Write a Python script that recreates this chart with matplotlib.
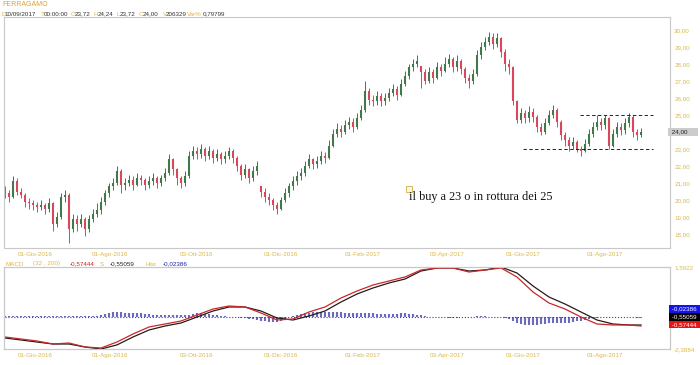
import matplotlib.pyplot as plt
import numpy as np

plt.rcParams['font.family'] = ['Liberation Sans', 'DejaVu Sans']

# FERRAGAMO bars (one bar ~ two sessions)
closes = [20.4, 20.2, 21.1, 20.5, 20.3, 19.9, 19.8, 19.7, 19.6, 19.7,
          19.5, 19.8, 18.6, 19.0, 20.2, 20.3, 18.3, 18.9, 18.6, 18.9,
          18.3, 18.9, 19.2, 19.4, 19.9, 20.4, 20.8, 21.0, 21.7, 20.9,
          21.0, 21.2, 20.9, 21.3, 21.2, 20.9, 21.1, 21.3, 21.0, 21.3,
          21.6, 22.4, 21.8, 21.3, 21.0, 21.4, 22.6, 22.9, 22.7, 23.0,
          22.6, 22.9, 22.5, 22.7, 22.4, 22.6, 22.9, 22.5, 22.0, 21.5,
          21.8, 21.3, 21.7, 22.0, 20.5, 20.2, 20.0, 19.7, 19.5, 20.0,
          20.4, 20.8, 21.1, 21.4, 21.6, 22.0, 22.4, 22.1, 22.3, 22.6,
          22.5, 23.2, 23.9, 24.2, 24.0, 24.4, 24.6, 24.3, 24.8, 25.3,
          26.4, 25.9, 25.8, 26.1, 25.8, 26.0, 26.3, 26.5, 26.2, 26.8,
          27.3, 27.8, 28.0, 28.2, 27.5, 27.0, 27.5, 27.2, 27.8, 27.6,
          28.0, 28.3, 27.8, 28.2, 27.7, 27.2, 27.0, 27.4, 28.5, 29.0,
          29.3, 29.6, 29.2, 29.5, 28.7, 28.0, 27.8, 25.8, 24.7, 25.1,
          24.8, 25.2, 24.9, 24.3, 24.0, 24.5, 25.0, 25.3, 24.6, 23.8,
          23.5, 23.2, 23.4, 23.0, 22.9, 23.3, 23.9, 24.3, 24.6, 24.4,
          24.8, 23.2, 23.9, 24.3, 24.1, 24.5, 24.9, 24.0, 23.8, 24.0]
highs = [20.8, 20.6, 21.4, 21.3, 20.7, 20.4, 20.1, 20.0, 19.9, 20.0,
         19.8, 20.1, 19.9, 19.3, 20.4, 20.6, 20.4, 19.2, 19.1, 19.2,
         19.0, 19.1, 19.5, 19.8, 20.2, 20.6, 21.0, 21.3, 22.0, 21.8,
         21.3, 21.5, 21.4, 21.6, 21.5, 21.3, 21.4, 21.6, 21.4, 21.5,
         21.9, 22.7, 22.5, 21.9, 21.4, 21.7, 22.9, 23.2, 23.1, 23.3,
         23.1, 23.2, 23.0, 23.0, 22.8, 22.9, 23.1, 23.0, 22.6, 22.1,
         22.1, 21.9, 22.0, 22.3, 20.8, 20.7, 20.4, 20.1, 19.9, 20.2,
         20.7, 21.0, 21.4, 21.7, 21.9, 22.3, 22.7, 22.5, 22.6, 22.9,
         22.8, 23.5, 24.2, 24.5, 24.4, 24.7, 24.9, 24.8, 25.1, 25.6,
         27.0, 26.6, 26.2, 26.4, 26.3, 26.3, 26.6, 26.8, 26.7, 27.1,
         27.6, 28.0, 28.3, 28.5, 27.9, 27.7, 27.8, 27.7, 28.1, 28.0,
         28.4, 28.6, 28.4, 28.5, 28.3, 27.8, 27.4, 27.7, 28.8, 29.3,
         29.6, 29.9, 29.8, 29.8, 29.6, 28.9, 28.3, 27.9, 25.9, 25.4,
         25.3, 25.5, 25.4, 25.0, 24.5, 24.8, 25.3, 25.6, 25.4, 24.7,
         24.0, 23.7, 23.7, 23.5, 23.2, 23.6, 24.2, 24.6, 25.0, 24.8,
         25.0, 24.9, 24.2, 24.6, 24.5, 24.8, 25.1, 25.0, 24.2, 24.24]
lows = [20.1, 19.9, 20.1, 20.3, 20.1, 19.6, 19.5, 19.4, 19.3, 19.4,
        19.2, 19.3, 18.2, 18.4, 18.9, 19.9, 17.5, 18.1, 18.2, 18.4,
        17.9, 18.1, 18.7, 19.0, 19.2, 19.7, 20.2, 20.6, 20.9, 20.4,
        20.6, 20.8, 20.6, 20.8, 20.9, 20.6, 20.7, 20.9, 20.7, 20.8,
        21.1, 21.5, 21.5, 20.9, 20.7, 20.8, 21.3, 22.4, 22.4, 22.5,
        22.3, 22.4, 22.2, 22.3, 22.1, 22.2, 22.4, 22.2, 21.7, 21.2,
        21.3, 21.0, 21.1, 21.5, 20.2, 19.9, 19.7, 19.4, 19.2, 19.4,
        19.9, 20.2, 20.6, 20.9, 21.2, 21.4, 21.9, 21.8, 21.9, 22.1,
        22.2, 22.4, 23.1, 23.7, 23.7, 23.9, 24.2, 24.0, 24.2, 24.7,
        25.2, 25.6, 25.5, 25.6, 25.5, 25.6, 25.8, 26.1, 25.9, 26.1,
        26.7, 27.1, 27.6, 27.8, 26.6, 26.8, 26.9, 26.9, 27.1, 27.3,
        27.5, 27.8, 27.5, 27.6, 27.4, 26.9, 26.6, 26.8, 27.3, 28.3,
        28.8, 29.1, 28.9, 29.0, 28.4, 27.6, 27.4, 25.6, 24.5, 24.5,
        24.5, 24.6, 24.6, 24.0, 23.8, 23.9, 24.4, 24.8, 24.3, 23.5,
        23.2, 22.9, 23.0, 22.8, 22.6, 22.8, 23.2, 23.7, 24.1, 24.1,
        24.2, 23.0, 23.1, 23.7, 23.8, 23.9, 24.3, 23.7, 23.5, 23.72]
first_open = 20.6

# MACD histogram, one value per bar
hist = [0.02] * 24 + [
    0.05, 0.08, 0.10, 0.12, 0.12, 0.12, 0.11, 0.11, 0.10, 0.10, 0.09, 0.08, 0.07,
    0.06, 0.05, 0.05, 0.05, 0.06, 0.05, 0.04, 0.04, 0.05, 0.06,
    0.08, 0.09, 0.09, 0.08, 0.07, 0.05, 0.04,
    0.03, 0.02, 0.01, 0.0, -0.01, -0.02, -0.03, -0.04, -0.05,
    -0.07, -0.09, -0.11, -0.12, -0.13, -0.12, -0.09, -0.05, -0.01,
    0.03, 0.06, 0.08, 0.10, 0.11, 0.12, 0.12, 0.12, 0.12, 0.12, 0.12, 0.12,
    0.12, 0.11, 0.11, 0.10, 0.10, 0.09, 0.10, 0.09, 0.09, 0.08,
    0.08, 0.07, 0.07, 0.08, 0.08, 0.09, 0.09, 0.08, 0.07, 0.06,
    0.04, 0.02, 0.01, 0.0, 0.0, -0.01, -0.01, -0.02, -0.02, -0.02, -0.01, -0.01, 0.0,
    0.01, 0.02, 0.02, 0.02, 0.01, 0.01, 0.0, -0.01, -0.03, -0.06,
    -0.10, -0.14, -0.17, -0.19, -0.20, -0.20, -0.19, -0.18, -0.17, -0.15, -0.14, -0.14, -0.15, -0.15,
    -0.14, -0.12, -0.10, -0.09, -0.07, -0.05, -0.03, -0.02,
    -0.01, 0.0, 0.01, 0.01, 0.0, 0.01, 0.01, 0.0, -0.01, -0.02, -0.02]

# MACD (red) and signal (black), sampled every 4 bars
macd_idx = list(range(0, 160, 4)) + [159]
macd = [-1.806, -1.903, -2.000, -2.146, -2.097, -2.291, -2.340, -2.048, -1.660, -1.320,
        -1.175, -1.029, -0.738, -0.447, -0.301, -0.349, -0.641, -0.981, -0.932, -0.592,
        -0.349, 0.087, 0.427, 0.718, 0.913, 1.107, 1.446, 1.544, 1.544, 1.349,
        1.446, 1.544, 1.107, 0.379, -0.155, -0.447, -0.835, -1.175, -1.223, -1.223,
        -1.272]
signal = [-1.855, -1.950, -2.050, -2.146, -2.146, -2.291, -2.388, -2.190, -1.806, -1.466,
          -1.272, -1.126, -0.835, -0.544, -0.349, -0.349, -0.544, -0.884, -0.981, -0.786,
          -0.544, -0.107, 0.282, 0.573, 0.816, 1.010, 1.398, 1.544, 1.544, 1.398,
          1.446, 1.592, 1.301, 0.670, 0.136, -0.204, -0.592, -0.981, -1.175, -1.223,
          -1.223]

date_pos = [7.5, 26.25, 48, 69, 89.5, 110.5, 129.5, 150]
date_labels = ['01-Giu-2016', '01-Ago-2016', '03-Ott-2016', '01-Dic-2016',
               '01-Feb-2017', '03-Apr-2017', '01-Giu-2017', '01-Ago-2017']
price_ticks = [18, 19, 20, 21, 22, 23, 25, 26, 27, 28, 29, 30]

GOLD = '#dcb848'
FRAME = '#c8c8c8'
UP = '#3f7a48'
DOWN = '#d9465e'
DARK = '#333333'

W, H = 700, 365


def fx(x):
    return x / W


def fy(y):
    return 1 - y / H


fig = plt.figure(figsize=(7, 3.65), dpi=100)
fig.patch.set_facecolor('white')

xmin, xmax = -0.25, 166.25

# ---- price panel
ax = fig.add_axes([fx(4), fy(248), fx(666), 231 / H])
n = len(closes)
idx = np.arange(n)
prev = np.array([first_open] + closes[:-1])
opens = np.clip(prev, lows, highs)
cl = np.array(closes)
cols = [UP if c >= o else DOWN for o, c in zip(opens, cl)]
ax.vlines(idx, lows, highs, colors=cols, lw=0.7)
ax.vlines(idx, np.minimum(opens, cl), np.maximum(opens, cl), colors=cols, lw=1.5)

ax.hlines(25, 143.75, 162, colors='k', lw=0.6, linestyles=(0, (4, 3)))
ax.hlines(23, 129.5, 162, colors='k', lw=0.6, linestyles=(0, (4, 3)))
ax.plot([100.9], [20.62], marker='s', ms=4, mfc='#fff6dc', mec='#d8b860', mew=0.7)
ax.text(101, 20.18, 'il buy a 23 o in rottura dei 25', family='Liberation Serif',
        fontsize=8.8, va='center', ha='left', color='#111111')

ax.set_xlim(xmin, xmax)
ax.set_ylim(17.18, 30.76)
ax.yaxis.tick_right()
ax.set_yticks(price_ticks)
ax.set_yticklabels([('%.2f' % v).replace('.', ',') for v in price_ticks])
ax.set_xticks(date_pos)
ax.set_xticklabels(date_labels)
ax.tick_params(length=0, labelsize=4.5, labelcolor=GOLD)
ax.tick_params(axis='y', pad=3)
ax.tick_params(axis='x', pad=3)
for s in ax.spines.values():
    s.set_color(FRAME)
    s.set_linewidth(0.8)
ax.text(1.0, 24.0, ' 24,00     ', transform=ax.get_yaxis_transform(), fontsize=4.5,
        va='center', ha='left', color='#222222',
        bbox=dict(facecolor='#cccccc', edgecolor='none', pad=1.2))

# ---- MACD panel
ax2 = fig.add_axes([fx(4), fy(349), fx(666), 82 / H])
ax2.vlines(idx, 0, hist, colors='#3a3aa8', lw=1.5, alpha=0.75)
ax2.hlines(0, 0, n - 1, colors='#3a3aa8', lw=0.8, linestyles=':')
ax2.set_ylim(-0.8, 1.25)
ax2.set_xlim(xmin, xmax)
ax2.set_yticks([])
ax2.set_xticks(date_pos)
ax2.set_xticklabels(date_labels)
ax2.tick_params(length=0, labelsize=4.5, labelcolor=GOLD, pad=3)

axm = ax2.twinx()
axm.plot(macd_idx, signal, color='#2a1a1a', lw=0.9)
axm.plot(macd_idx, macd, color='#c82828', lw=0.9)
axm.set_ylim(-2.3884, 1.5922)
axm.set_yticks([-2.3884, 1.5922])
axm.set_yticklabels(['-2,3884', '1,5922'])
axm.tick_params(length=0, labelsize=4.5, labelcolor=GOLD, pad=3)
for a in (ax2, axm):
    for s in a.spines.values():
        s.set_color(FRAME)
        s.set_linewidth(0.8)

# value boxes on the right of the MACD panel
for y, txt, bg in [(309, ' -0,02386 ', '#1414e6'), (317, ' -0,55059 ', '#000000'),
                   (324.5, ' -0,57444 ', '#e81414')]:
    fig.text(fx(670.5), fy(y), txt, fontsize=4.5, color='white', va='center', ha='left',
             bbox=dict(facecolor=bg, edgecolor='none', pad=1.0))

# ---- header
fig.text(fx(2), fy(5), 'FERRAGAMO', fontsize=5, color='#e0a030', va='center')
header = [(1.5, 'D', GOLD), (4.5, '10/09/2017', DARK), (40.5, 'T', GOLD),
          (43.5, '00:00:00', DARK), (71, 'O', GOLD), (75, '23,72', DARK),
          (93.5, 'H', GOLD), (98, '24,24', DARK), (116.5, 'L', GOLD),
          (120, '23,72', DARK), (138.5, 'C', GOLD), (143, '24,00', DARK),
          (162.5, 'V', GOLD), (166, '206329', DARK), (187, 'Var%', GOLD),
          (203, '0,79799', DARK)]
for x, t, c in header:
    fig.text(fx(x), fy(14), t, fontsize=4.5, color=c, va='center')

macd_hdr = [(5, 'MACD', GOLD), (33, '(32 , 200)', GOLD), (70, '-0,57444', '#d02020'),
            (100, 'S', GOLD), (110, '-0,55059', '#222222'), (146, 'Hist', GOLD),
            (163, '-0,02386', '#2020a0')]
for x, t, c in macd_hdr:
    fig.text(fx(x), fy(264), t, fontsize=4.5, color=c, va='center')

fig.savefig('out.png', dpi=100, facecolor='white')
